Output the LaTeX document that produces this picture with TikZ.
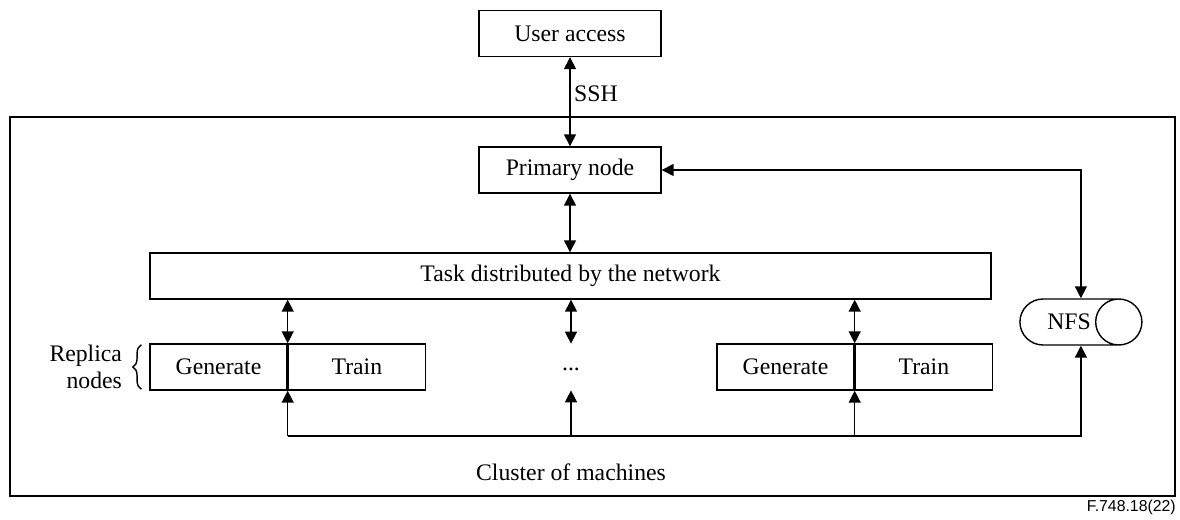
\documentclass[tikz,border=0pt]{standalone}
\usepackage{fontspec}
\setmainfont{Liberation Serif}
\newfontfamily\figfont{Liberation Sans}
\usepackage{tikz}
\usetikzlibrary{arrows.meta,positioning,shapes.geometric,decorations.pathreplacing}
\tikzset{
  box/.style={draw, line width=0.8pt, inner sep=0pt, minimum height=0.92cm},
  link/.style={line width=0.8pt},
  every node/.style={font=\fontsize{13.5}{15.5}\selectfont},
  >={Triangle[length=2.4mm,width=2.4mm]}
}

\begin{document}
\begin{tikzpicture}[x=0.02cm, y=-0.02cm]
  \useasboundingbox (0,0) rectangle (1180,520);

  % --- Cluster frame ---
  \node[draw, line width=0.8pt, inner sep=0pt, minimum width=23.3cm, minimum height=7.58cm] (cluster) at (592.5,306.5) {};
  \node (clusterlabel) at (571,472) {Cluster of machines};

  % --- Access, primary and task ---
  \node[box, minimum width=3.64cm] (user) at (570,33.5) {User access};
  \node[box, minimum width=3.64cm] (primary) at (570,170) {Primary node};
  \node[box, minimum width=16.82cm] (task) at (570.5,276) {Task distributed by the network};

  % --- Replica nodes ---
  \node[box, minimum width=2.74cm] (gen1) at (218.5,367) {Generate};
  \node[box, minimum width=2.74cm, right=0pt of gen1] (train1) {Train};
  \node[minimum height=0.92cm, inner sep=0pt] (dots) at (571,369) {...};
  \node[box, minimum width=2.74cm] (gen2) at (785.5,367) {Generate};
  \node[box, minimum width=2.74cm, right=0pt of gen2] (train2) {Train};
  \node[align=right, inner sep=0pt, left=0.54cm of gen1] (replica) {Replica\\nodes};
  \draw[link, decorate, decoration={brace, amplitude=0.17cm}]
    ([xshift=-0.16cm, yshift=0.03cm]gen1.south west) -- ([xshift=-0.16cm, yshift=-0.03cm]gen1.north west);

  % --- Storage ---
  \node[cylinder, draw, line width=0.8pt, shape aspect=2.9, inner sep=0pt,
        minimum width=0.92cm, minimum height=2.44cm] (nfs) at (1069,322) {NFS};
  \coordinate (nfstop) at (nfs.shape center |- nfs.north);
  \coordinate (nfsbot) at (nfs.shape center |- nfs.south);

  % --- Links ---
  \draw[link, <->] (user) -- node[right, pos=0.41, inner sep=2pt] {SSH} (primary);
  \draw[link, <->] (primary.south) -- (primary.south |- task.north);
  \draw[link, <->] (primary.east) -| (nfstop);
  \foreach \n in {gen1.north east, gen2.north east}
    \draw[link, <->] (\n |- task.south) -- (\n);
  \draw[link, <->] (dots.north |- task.south) -- ([yshift=0.04cm]dots.north);

  \coordinate (bus) at (0,436);
  \draw[link, ->] (gen1.south east |- bus) -| (nfsbot);
  \foreach \n in {gen1.south east, gen2.south east}
    \draw[link, ->] (\n |- bus) -- (\n);
  \draw[link, ->] (dots.south |- bus) -- ([yshift=0.04cm]dots.south);

  \node[font=\figfont\fontsize{9}{11}\selectfont, anchor=east, inner sep=0pt] (figid) at (1176,507) {F.748.18(22)};
\end{tikzpicture}
\end{document}
